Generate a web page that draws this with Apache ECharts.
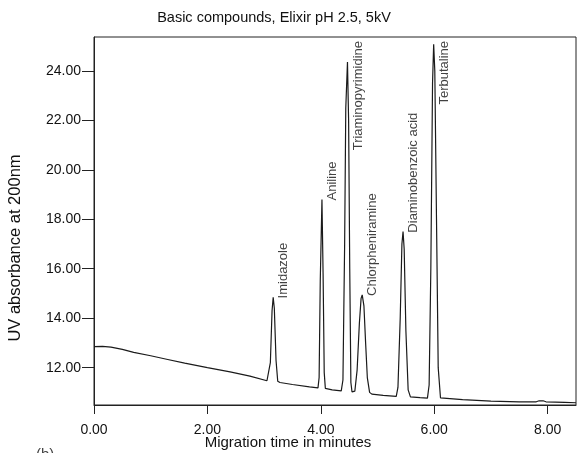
<!DOCTYPE html>
<html>
<head>
<meta charset="utf-8">
<script src="https://cdn.jsdelivr.net/npm/echarts@6/dist/echarts.min.js"></script>
<style>
html,body{margin:0;padding:0;background:#fff;}
#chart{width:577px;height:453px;}
</style>
</head>
<body>
<div id="chart"></div>
<script>
// Migration time (min) and UV absorbance
const times = [
  0.00, 0.15, 0.30, 0.50, 0.70, 1.00, 1.30, 1.60, 2.00, 2.40, 2.75, 3.05,
  3.08, 3.11, 3.14, 3.16, 3.18, 3.21, 3.24, 3.28,
  3.50, 3.80, 3.95,
  3.97, 3.99, 4.02, 4.04, 4.06, 4.08,
  4.20, 4.36,
  4.39, 4.42, 4.44, 4.47, 4.49, 4.51, 4.53, 4.55,
  4.60, 4.64, 4.68, 4.71, 4.73, 4.76, 4.79, 4.82, 4.86, 4.90,
  5.10, 5.33,
  5.36, 5.40, 5.43, 5.45, 5.47, 5.50, 5.54, 5.58,
  5.75, 5.88,
  5.91, 5.94, 5.97, 5.99, 6.01, 6.04, 6.07, 6.11, 6.14,
  6.50, 7.00, 7.50, 7.80, 7.85, 7.92, 7.97, 8.30, 8.50
];
const absorbance = [
  12.85, 12.86, 12.83, 12.74, 12.62, 12.48, 12.33, 12.18, 12.00, 11.83, 11.66, 11.47,
  11.45, 12.20, 14.30, 14.84, 14.40, 12.30, 11.45, 11.40,
  11.32, 11.22, 11.18,
  11.60, 15.50, 18.80, 15.80, 11.80, 11.16,
  11.10, 11.06,
  11.50, 17.00, 22.50, 24.36, 22.00, 16.00, 11.40, 11.02,
  11.05, 11.90, 13.80, 14.80, 14.94, 14.50, 13.00, 11.60, 11.00, 10.93,
  10.88, 10.84,
  11.20, 14.00, 17.00, 17.50, 16.80, 13.50, 11.10, 10.82,
  10.79, 10.77,
  11.30, 16.00, 23.50, 25.08, 24.00, 18.00, 12.00, 10.78, 10.74,
  10.71, 10.65, 10.62, 10.62, 10.66, 10.66, 10.62, 10.60, 10.58
];
const peakNames = ['Imidazole', 'Aniline', 'Triaminopyrimidine', 'Chlorpheniramine', 'Diaminobenzoic acid', 'Terbutaline'];
const peakTimes = [3.16, 4.02, 4.47, 4.73, 5.45, 5.99];
const peakHeights = [14.84, 18.80, 24.36, 14.94, 17.50, 25.08];
const labelHangsFromTop = [false, false, true, false, false, true];
const xTicks = [0, 2, 4, 6, 8];
const yTicks = [12, 14, 16, 18, 20, 22, 24];

const X_MIN = 0, X_MAX = 8.5, Y_MIN = 10.49, Y_MAX = 25.37;
const FONT = '"Liberation Sans", Arial, sans-serif';

const chart = echarts.init(document.getElementById('chart'));

const lineData = times.map((t, i) => [t, absorbance[i]]);
// label offsets are in the rotated frame: [along text (up), across text (right)]
const labelData = peakNames.map((n, i) => {
  const top = labelHangsFromTop[i];
  return {
    name: n,
    value: [peakTimes[i], top ? Y_MAX : peakHeights[i]],
    label: top
      ? { align: 'right', offset: [-4, 11] }
      : { align: 'left', offset: [-1, 10] }
  };
});

chart.setOption({
  animation: false,
  backgroundColor: '#fff',
  grid: { left: 94, top: 37, right: 1, bottom: 48, show: true, borderColor: '#222', borderWidth: 1, backgroundColor: 'transparent' },
  xAxis: {
    type: 'value', min: X_MIN, max: X_MAX,
    axisLine: { show: true, onZero: false, lineStyle: { color: '#222', width: 1 } },
    axisTick: { show: true, length: 9, customValues: xTicks, lineStyle: { color: '#222' } },
    axisLabel: { customValues: xTicks, formatter: v => v.toFixed(2), color: '#111', fontFamily: FONT, fontSize: 14, margin: 18 },
    splitLine: { show: false }
  },
  yAxis: {
    type: 'value', min: Y_MIN, max: Y_MAX,
    axisLine: { show: true, onZero: false, lineStyle: { color: '#222', width: 1 } },
    axisTick: { show: true, length: 12, customValues: yTicks, lineStyle: { color: '#222' } },
    axisLabel: { customValues: yTicks, formatter: v => v.toFixed(2), color: '#111', fontFamily: FONT, fontSize: 14, margin: 13 },
    splitLine: { show: false }
  },
  graphic: [
    { type: 'text', style: { text: 'Basic compounds, Elixir pH 2.5, 5kV', x: 274, y: 18, align: 'center', verticalAlign: 'middle', font: '14.5px ' + FONT, fill: '#111' } },
    { type: 'text', style: { text: 'Migration time in minutes', x: 288, y: 443, align: 'center', verticalAlign: 'middle', font: '15px ' + FONT, fill: '#111' } },
    { type: 'text', x: 15, y: 248, rotation: Math.PI / 2, style: { text: 'UV absorbance at 200nm', x: 0, y: 0, align: 'center', verticalAlign: 'middle', font: '16.5px ' + FONT, fill: '#111' } },
    { type: 'text', style: { text: '(b)', x: 36, y: 447, align: 'left', verticalAlign: 'top', font: '15px ' + FONT, fill: '#444' } }
  ],
  series: [
    {
      type: 'line', data: lineData, showSymbol: false, smooth: false,
      lineStyle: { color: '#1a1a1a', width: 1.2 }, silent: true
    },
    {
      type: 'scatter', data: labelData, symbolSize: 0, silent: true,
      label: {
        show: true, position: 'inside', rotate: 90, verticalAlign: 'middle',
        formatter: p => p.name, color: '#111', fontFamily: FONT, fontSize: 13
      }
    }
  ]
});
</script>
</body>
</html>
